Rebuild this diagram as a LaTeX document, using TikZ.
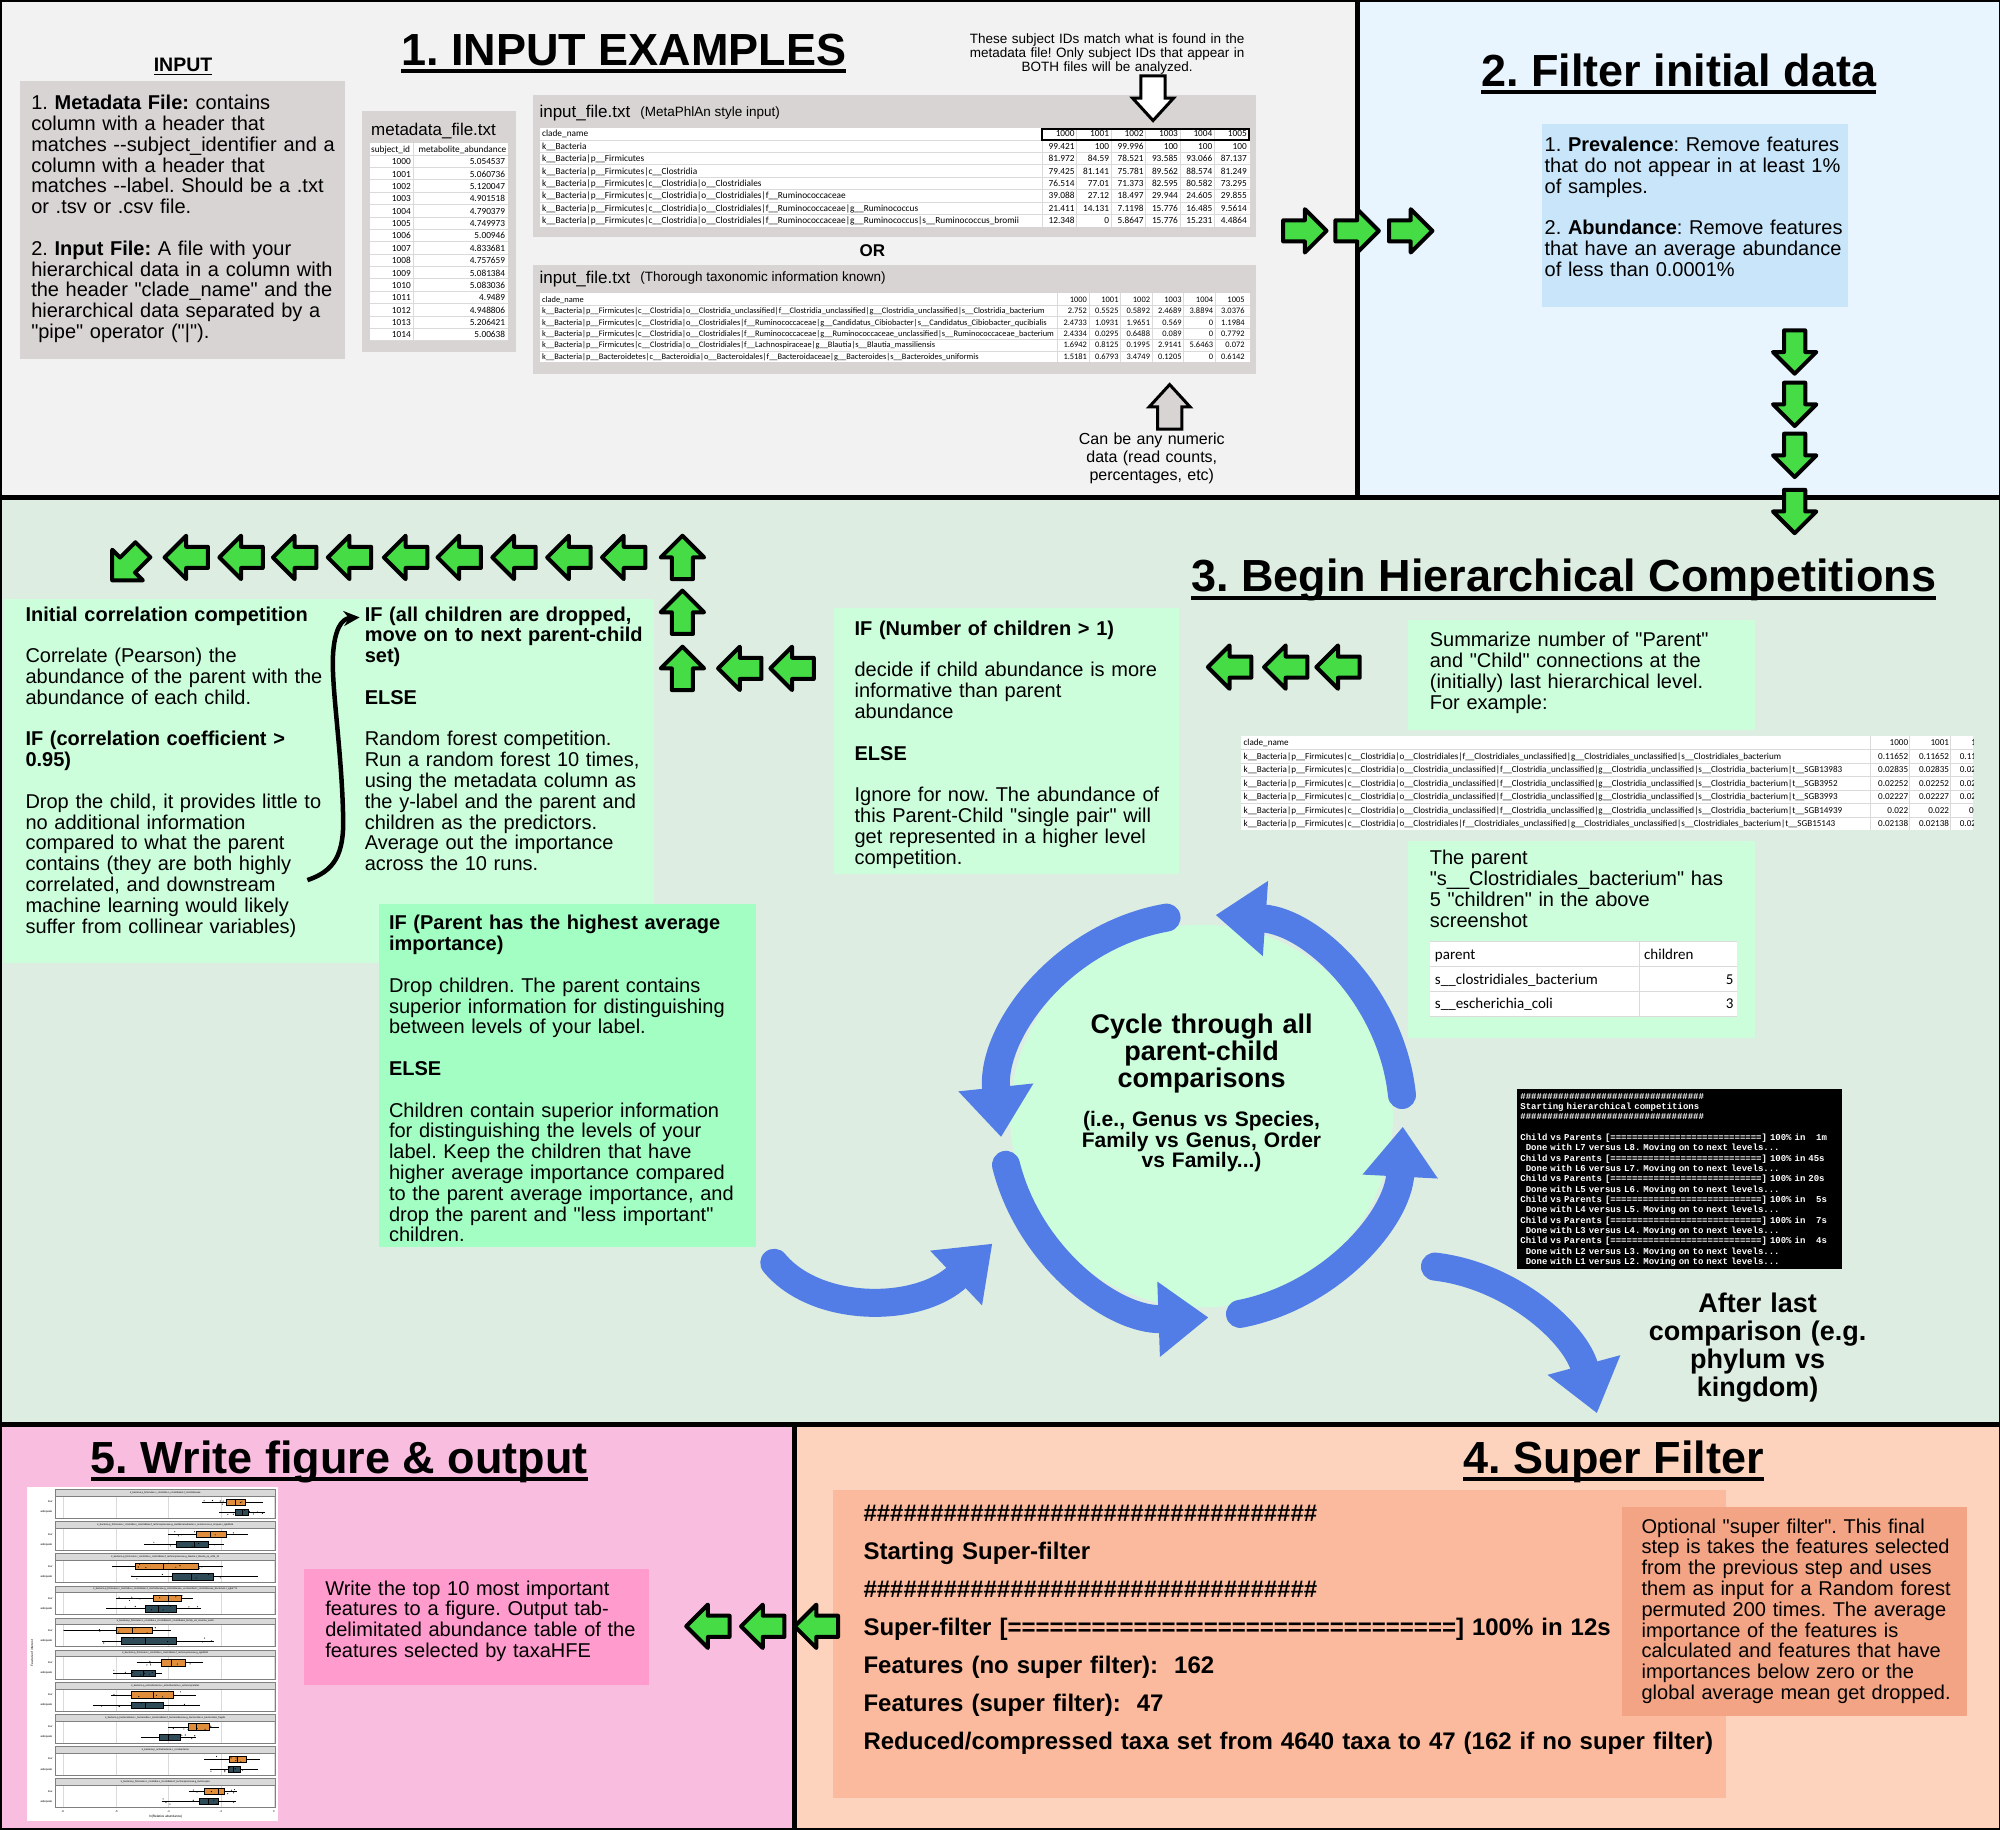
\documentclass[tikz,border=0pt]{standalone}
\usepackage{fontspec}
\setmainfont{Liberation Sans}[Ligatures=TeXOff]
\newfontfamily\calib{Carlito}[Ligatures=TeXOff]
\newfontfamily\termfont{Liberation Mono}[Ligatures=TeXOff]
\usetikzlibrary{arrows.meta}

\definecolor{bgone}{HTML}{F2F2F2}
\definecolor{bgtwo}{HTML}{E8F4FE}
\definecolor{boxtwo}{HTML}{C8E5FA}
\definecolor{bgthree}{HTML}{DDEDE2}
\definecolor{mint}{HTML}{CDFEDC}
\definecolor{mintdark}{HTML}{A2FEC2}
\definecolor{cycblue}{HTML}{537DE6}
\definecolor{bgfive}{HTML}{F9BDE0}
\definecolor{boxfive}{HTML}{FF9BCD}
\definecolor{bgfour}{HTML}{FDD3BE}
\definecolor{boxfour}{HTML}{FBBA9D}
\definecolor{sidefour}{HTML}{F2A484}
\definecolor{paper}{HTML}{D9D4D4}
\definecolor{arrowgreen}{HTML}{46DC46}
\definecolor{gridc}{HTML}{DADADA}
\definecolor{boxorange}{HTML}{E08D3C}
\definecolor{boxslate}{HTML}{2E4B57}
\definecolor{stripc}{HTML}{D9D9D9}

\newcommand\bodyfont{\fontsize{20}{20.8}\selectfont}
\newcommand\gapline{\\[20.8pt]}
\newcommand\headline[1]{\draw[line width=4pt] ([yshift=-6pt]#1.base west) -- ([yshift=-6pt]#1.base east);}
\newcommand\hashrow{\#\#\#\#\#\#\#\#\#\#\#\#\#\#\#\#\#\#\#\#\#\#\#\#\#\#\#\#\#\#\#\#\#\#}
\newcommand\eqbar{============================}
\newcommand\kpre{k\_\_Bacteria|p\_\_Firmicutes|c\_\_Clostridia|}
\newcommand\cunc{o\_\_Clostridia\_unclassified|f\_\_Clostridia\_unclassified|g\_\_Clostridia\_unclassified|s\_\_Clostridia\_bacterium}
\newcommand\cles{o\_\_Clostridiales|f\_\_Clostridiales\_unclassified|g\_\_Clostridiales\_unclassified|s\_\_Clostridiales\_bacterium}

% one row of the MetaPhlAn-style table
\newcommand\trow[8]{%
  \node[anchor=base west] at (425,{107.4+9.7*#1}) {#2};
  \foreach \n [count=\k] in {#3,#4,#5,#6,#7,#8}
    \node[anchor=base east] at ({815.5+27*\k},{107.4+9.7*#1}) {\n};}
% one row of the full-taxonomy table
\newcommand\brow[8]{%
  \node[anchor=base west] at (425,{236.8+9*#1}) {#2};
  \foreach \n [count=\k] in {#3,#4,#5,#6,#7,#8}
    \node[anchor=base east] at ({827.5+24.7*\k},{236.8+9*#1}) {\n};}
% one row of the strain-level table
\newcommand\wrow[5]{%
  \node[anchor=base west] at (975,{584.8+10.57*#1}) {#2};
  \foreach \n [count=\k] in {#3,#4,#5}
    \node[anchor=base east] at ({1464+32*\k},{584.8+10.57*#1}) {\n};}

\tikzset{
  garrow/.pic={\draw[line width=4pt, line join=round, fill=arrowgreen]
    (-17,-8.3) -- (0,-8.3) -- (0,-17) -- (17,0) -- (0,17) -- (0,8.3) -- (-17,8.3) -- cycle;},
  warrow/.pic={\draw[line width=3pt, fill=#1]
    (-17.5,-9.5) -- (0,-9.5) -- (0,-16) -- (17.5,0) -- (0,16) -- (0,9.5) -- (-17.5,9.5) -- cycle;},
  body/.style={anchor=base west, align=left, text width=#1, font=\bodyfont},
  body/.default=460pt,
  heading/.style={anchor=base, font=\fontsize{45}{50}\selectfont\bfseries},
  cyc/.style={cycblue, line width=28pt, line cap=round, -{Triangle[width=72pt,length=50pt]}},
}

\begin{document}
\frenchspacing
\begin{tikzpicture}[x=1.2755pt, y=-1.2755pt, every node/.style={inner sep=0pt, outer sep=0pt}]
\useasboundingbox (0,0) rectangle (1568,1434);

% ---------- panel backgrounds ----------
\fill[bgone] (0,0) rectangle (1064,390);
\fill[bgtwo] (1064,0) rectangle (1568,390);
\fill[bgthree] (0,390) rectangle (1568,1117);
\fill[bgfive] (0,1117) rectangle (623,1434);
\fill[bgfour] (623,1117) rectangle (1568,1434);

% ---------- 1. input examples ----------
\node[heading] (h1) at (489,51) {1. INPUT EXAMPLES};
\headline{h1}
\node[anchor=base, font=\fontsize{19.5}{22}\selectfont\bfseries] (inlabel) at (143.5,56) {INPUT};
\draw[line width=1.6pt] ([yshift=-3pt]inlabel.base west) -- ([yshift=-3pt]inlabel.base east);

\fill[paper] (16,63.5) rectangle (270.5,281.5);
\node[body] (intext) at (24.5,86) {1. \textbf{Metadata File:} contains\\column with a header that\\matches -{}-subject\_identifier and a\\column with a header that\\matches -{}-label. Should be a .txt\\or .tsv or .csv file.\gapline 2. \textbf{Input File:} A file with your\\hierarchical data in a column with\\the header "clade\_name" and the\\hierarchical data separated by a\\"pipe" operator ("|").};

% metadata table
\fill[paper] (284,87) rectangle (404.5,276);
\node[anchor=base west, font=\fontsize{17}{20}\selectfont] (mdtitle) at (291,106) {metadata\_file.txt};
\fill[white] (290,112) rectangle (398,267);
\foreach \i in {0,...,15} \draw[gridc, line width=0.5pt] (290,{121.5+9.7*\i}) -- (398,{121.5+9.7*\i});
\draw[gridc, line width=0.5pt] (324,112) -- (324,267);
\begin{scope}[font=\calib\fontsize{9.3}{10}\selectfont]
  \node[anchor=base west] (mdh1) at (291,119.5) {subject\_id};
  \node[anchor=base east] (mdh2) at (397,119.5) {metabolite\_abundance};
  \foreach \v [count=\i] in {5.054537,5.060736,5.120047,4.901518,4.790379,4.749973,5.00946,4.833681,4.757659,5.081384,5.083036,4.9489,4.948806,5.206421,5.00638} {
    \node[anchor=base east] at (322,{119.4+9.7*\i}) {\the\numexpr 999+\i\relax};
    \node[anchor=base east] at (396,{119.4+9.7*\i}) {\v};
  }
\end{scope}

% MetaPhlAn style input
\fill[paper] (418,74.5) rectangle (985,186);
\node[anchor=base west, font=\fontsize{17}{20}\selectfont] (inf1) at (423,92) {input\_file.txt};
\node[anchor=base west, font=\fontsize{13.5}{16}\selectfont] (inf1s) at (502,91) {(MetaPhlAn style input)};
\fill[white] (423,100) rectangle (980,177.6);
\foreach \i in {1,...,7} \draw[gridc, line width=0.5pt] (423,{100+9.7*\i}) -- (980,{100+9.7*\i});
\foreach \k in {0,...,5} \draw[gridc, line width=0.5pt] ({817+27*\k},100) -- ({817+27*\k},177.6);
\begin{scope}[font=\calib\fontsize{9.3}{10}\selectfont]
  \trow{0}{clade\_name}{1000}{1001}{1002}{1003}{1004}{1005}
  \trow{1}{k\_\_Bacteria}{99.421}{100}{99.996}{100}{100}{100}
  \trow{2}{k\_\_Bacteria|p\_\_Firmicutes}{81.972}{84.59}{78.521}{93.585}{93.066}{87.137}
  \trow{3}{k\_\_Bacteria|p\_\_Firmicutes|c\_\_Clostridia}{79.425}{81.141}{75.781}{89.562}{88.574}{81.249}
  \trow{4}{\kpre o\_\_Clostridiales}{76.514}{77.01}{71.373}{82.595}{80.582}{73.295}
  \trow{5}{\kpre o\_\_Clostridiales|f\_\_Ruminococcaceae}{39.088}{27.12}{18.497}{29.944}{24.605}{29.855}
  \trow{6}{\kpre o\_\_Clostridiales|f\_\_Ruminococcaceae|g\_\_Ruminococcus}{21.411}{14.131}{7.1198}{15.776}{16.485}{9.5614}
  \trow{7}{\kpre o\_\_Clostridiales|f\_\_Ruminococcaceae|g\_\_Ruminococcus|s\_\_Ruminococcus\_bromii}{12.348}{0}{5.8647}{15.776}{15.231}{4.4864}
\end{scope}
\draw[line width=2pt] (817,101) rectangle (979,109.6);

\node[anchor=base, align=center, text width=320pt, font=\fontsize{13.5}{14}\selectfont] (idnote) at (868,34) {These subject IDs match what is found in the\\metadata file! Only subject IDs that appear in\\BOTH files will be analyzed.};
\pic[rotate=-90] at (904,77) {warrow=white};

\node[anchor=base, font=\fontsize{17}{20}\selectfont\bfseries] (ortext) at (684,201) {OR};

% full taxonomy input
\fill[paper] (418,208) rectangle (985,293.5);
\node[anchor=base west, font=\fontsize{17}{20}\selectfont] (inf2) at (423,222) {input\_file.txt};
\node[anchor=base west, font=\fontsize{13.5}{16}\selectfont] (inf2s) at (502,221) {(Thorough taxonomic information known)};
\fill[white] (423,230) rectangle (980,284);
\foreach \i in {1,...,5} \draw[gridc, line width=0.5pt] (423,{230+9*\i}) -- (980,{230+9*\i});
\foreach \k in {0,...,5} \draw[gridc, line width=0.5pt] ({829+24.7*\k},230) -- ({829+24.7*\k},284);
\begin{scope}[font=\calib\fontsize{8.4}{9}\selectfont]
  \brow{0}{clade\_name}{1000}{1001}{1002}{1003}{1004}{1005}
  \brow{1}{\kpre\cunc}{2.752}{0.5525}{0.5892}{2.4689}{3.8894}{3.0376}
  \brow{2}{\kpre o\_\_Clostridiales|f\_\_Ruminococcaceae|g\_\_Candidatus\_Cibiobacter|s\_\_Candidatus\_Cibiobacter\_qucibialis}{2.4733}{1.0931}{1.9651}{0.569}{0}{1.1984}
  \brow{3}{\kpre o\_\_Clostridiales|f\_\_Ruminococcaceae|g\_\_Ruminococcaceae\_unclassified|s\_\_Ruminococcaceae\_bacterium}{2.4334}{0.0295}{0.6488}{0.089}{0}{0.7792}
  \brow{4}{\kpre o\_\_Clostridiales|f\_\_Lachnospiraceae|g\_\_Blautia|s\_\_Blautia\_massiliensis}{1.6942}{0.8125}{0.1995}{2.9141}{5.6463}{0.072}
  \brow{5}{k\_\_Bacteria|p\_\_Bacteroidetes|c\_\_Bacteroidia|o\_\_Bacteroidales|f\_\_Bacteroidaceae|g\_\_Bacteroides|s\_\_Bacteroides\_uniformis}{1.5181}{0.6793}{3.4749}{0.1205}{0}{0.6142}
\end{scope}

\pic[rotate=90] at (917,319) {warrow=paper};
\node[anchor=base, align=center, text width=220pt, font=\fontsize{16}{17.9}\selectfont] (anynum) at (903,348.5) {Can be any numeric\\data (read counts,\\percentages, etc)};

% ---------- 2. filter ----------
\node[heading] (h2) at (1316,67.5) {2. Filter initial data};
\headline{h2}
\fill[boxtwo] (1209,97) rectangle (1449,241);
\node[body] (filt) at (1211,119) {1. \textbf{Prevalence}: Remove features\\that do not appear in at least 1\%\\of samples.\gapline 2. \textbf{Abundance}: Remove features\\that have an average abundance\\of less than 0.0001\%};

% ---------- 3. hierarchical competitions ----------
\node[heading] (h3) at (1226,464) {3. Begin Hierarchical Competitions};
\headline{h3}

\fill[mint] (3,470) rectangle (513,755);
\node[body] (corr) at (20,487) {\textbf{Initial correlation competition}\gapline Correlate (Pearson) the\\abundance of the parent with the\\abundance of each child.\gapline\textbf{IF (correlation coefficient >}\\\textbf{0.95)}\gapline Drop the child, it provides little to\\no additional information\\compared to what the parent\\contains (they are both highly\\correlated, and downstream\\machine learning would likely\\suffer from collinear variables)};
\node[body] (rf) at (286,487) {\textbf{IF (all children are dropped,}\\\textbf{move on to next parent-child}\\\textbf{set)}\gapline\textbf{ELSE}\gapline Random forest competition.\\Run a random forest 10 times,\\using the metadata column as\\the y-label and the parent and\\children as the predictors.\\Average out the importance\\across the 10 runs.};
\coordinate (loopstart) at (241,690);
\coordinate (loopend) at (282,484);
\draw[line width=4.5pt, -{Stealth[length=16pt,width=15pt]}] (loopstart) .. controls (262,683) and (270,670) .. (269,640) .. controls (268,590) and (260,540) .. (261,515) .. controls (262,493) and (268,485) .. (loopend);

\fill[mintdark] (297,709) rectangle (593,978);
\node[body] (parentwin) at (305,729) {\textbf{IF (Parent has the highest average}\\\textbf{importance)}\gapline Drop children. The parent contains\\superior information for distinguishing\\between levels of your label.\gapline\textbf{ELSE}\gapline Children contain superior information\\for distinguishing the levels of your\\label. Keep the children that have\\higher average importance compared\\to the parent average importance, and\\drop the parent and "less important"\\children.};

\fill[mint] (654,477) rectangle (924,685);
\node[body] (nchild) at (670,498) {\textbf{IF (Number of children > 1)}\gapline decide if child abundance is more\\informative than parent\\abundance\gapline\textbf{ELSE}\gapline Ignore for now. The abundance of\\this Parent-Child "single pair" will\\get represented in a higher level\\competition.};

\fill[mint] (1104,486) rectangle (1376,572);
\node[body] (summ) at (1121,507) {Summarize number of "Parent"\\and "Child" connections at the\\(initially) last hierarchical level.\\For example:};

% strain-level example table
\begin{scope}
  \clip (973,577) rectangle (1547,651);
  \fill[white] (973,577) rectangle (1547,651);
  \foreach \i in {1,...,6} \draw[gridc, line width=0.5pt] (973,{577+10.57*\i}) -- (1547,{577+10.57*\i});
  \foreach \x in {1466,1497,1529} \draw[gridc, line width=0.5pt] (\x,577) -- (\x,651);
  \begin{scope}[font=\calib\fontsize{9.1}{10}\selectfont]
    \wrow{0}{clade\_name}{1000}{1001}{1002}
    \wrow{1}{\kpre\cles}{0.11652}{0.11652}{0.11652}
    \wrow{2}{\kpre\cunc|t\_\_SGB13983}{0.02835}{0.02835}{0.02835}
    \wrow{3}{\kpre\cunc|t\_\_SGB3952}{0.02252}{0.02252}{0.02252}
    \wrow{4}{\kpre\cunc|t\_\_SGB3993}{0.02227}{0.02227}{0.02227}
    \wrow{5}{\kpre\cunc|t\_\_SGB14939}{0.022}{0.022}{0.022}
    \wrow{6}{\kpre\cles|t\_\_SGB15143}{0.02138}{0.02138}{0.02138}
  \end{scope}
\end{scope}

\fill[mint] (1104,659) rectangle (1376,814);
\node[body] (ptext) at (1121,678) {The parent\\"s\_\_Clostridiales\_bacterium" has\\5 "children" in the above\\screenshot};
\fill[white] (1121,738) rectangle (1362,797);
\foreach \y in {738,757.7,777.3,797} \draw[gridc, line width=0.8pt] (1121,\y) -- (1362,\y);
\draw[gridc, line width=0.8pt] (1285,738) -- (1285,797);
\begin{scope}[font=\calib\fontsize{15}{16}\selectfont]
  \node[anchor=base west] (pth1) at (1125,752) {parent};
  \node[anchor=base west] (pth2) at (1289,752) {children};
  \node[anchor=base west] (ptr1) at (1125,771.5) {s\_\_clostridiales\_bacterium};
  \node[anchor=base east] (ptv1) at (1359,771.5) {5};
  \node[anchor=base west] (ptr2) at (1125,791) {s\_\_escherichia\_coli};
  \node[anchor=base east] (ptv2) at (1359,791) {3};
\end{scope}

% cycle of parent-child comparisons
\begin{scope}[shift={(942,875)}]
  \begin{scope}[x=1.2755pt,y=1.2755pt]
    \fill[mint] (0,0) circle[radius=150];
    \draw[cyc] (100:158) arc[start angle=100,end angle=186,radius=158];
    \draw[cyc] (194:158) arc[start angle=194,end angle=272,radius=158];
    \draw[cyc] (281:158) arc[start angle=281,end angle=357,radius=158];
    \draw[cyc] (6:158) arc[start angle=6,end angle=86,radius=158];
  \end{scope}
\end{scope}
\node[anchor=base, align=center, text width=280pt, font=\fontsize{27}{27}\selectfont\bfseries] (cyctext) at (942,810) {Cycle through all\\parent-child\\comparisons};
\node[anchor=base, align=center, text width=280pt, font=\fontsize{21}{20.8}\selectfont\bfseries] (cycsub) at (942,883) {(i.e., Genus vs Species,\\Family vs Genus, Order\\vs Family...)};

\coordinate (winout) at (607,990);
\coordinate (cycin) at (778,975);
\draw[cyc] (winout) .. controls (640,1030) and (720,1030) .. (cycin);
\coordinate (cycout) at (1125,993);
\coordinate (sfin) at (1252,1108);
\draw[cyc] (cycout) .. controls (1185,1000) and (1235,1045) .. (sfin);

% console output
\fill[black] (1189,854) rectangle (1444,995);
\begin{scope}
  \clip (1189,854) rectangle (1444,995);
  \node[anchor=base west, align=left, text width=420pt, text=white, font=\termfont\bfseries\fontsize{9}{10.33}\selectfont] (term) at (1192,861.7) {%
\#\#\#\#\#\#\#\#\#\#\#\#\#\#\#\#\#\#\#\#\#\#\#\#\#\#\#\#\#\#\#\#\#\#\\
Starting hierarchical competitions\\
\#\#\#\#\#\#\#\#\#\#\#\#\#\#\#\#\#\#\#\#\#\#\#\#\#\#\#\#\#\#\#\#\#\#\\[10.33pt]
Child vs Parents [\eqbar] 100\% in\phantom{xx}1m\\
\phantom{x}Done with L7 versus L8. Moving on to next levels...\\
Child vs Parents [\eqbar] 100\% in 45s\\
\phantom{x}Done with L6 versus L7. Moving on to next levels...\\
Child vs Parents [\eqbar] 100\% in 20s\\
\phantom{x}Done with L5 versus L6. Moving on to next levels...\\
Child vs Parents [\eqbar] 100\% in\phantom{xx}5s\\
\phantom{x}Done with L4 versus L5. Moving on to next levels...\\
Child vs Parents [\eqbar] 100\% in\phantom{xx}7s\\
\phantom{x}Done with L3 versus L4. Moving on to next levels...\\
Child vs Parents [\eqbar] 100\% in\phantom{xx}4s\\
\phantom{x}Done with L2 versus L3. Moving on to next levels...\\
\phantom{x}Done with L1 versus L2. Moving on to next levels...};
\end{scope}

\node[anchor=base, align=center, text width=300pt, font=\fontsize{27}{28.3}\selectfont\bfseries] (lastcmp) at (1378,1028.6) {After last\\comparison (e.g.\\phylum vs\\kingdom)};

% ---------- 4. super filter ----------
\node[heading] (h4) at (1265,1155) {4. Super Filter};
\headline{h4}
\fill[boxfour] (653,1168) rectangle (1353,1410);
\node[anchor=base west, align=left, text width=900pt, font=\fontsize{24}{38}\selectfont\bfseries] (sftext) at (677,1193) {\hashrow\\Starting Super-filter\\\hashrow\\Super-filter [================================] 100\% in 12s\\Features (no super filter):\ \ 162\\Features (super filter):\ \ 47\\Reduced/compressed taxa set from 4640 taxa to 47 (162 if no super filter)};
\fill[sidefour] (1272,1181.5) rectangle (1542,1345.5);
\node[body] (sfnote) at (1287,1202) {Optional "super filter". This final\\step is takes the features selected\\from the previous step and uses\\them as input for a Random forest\\permuted 200 times. The average\\importance of the features is\\calculated and features that have\\importances below zero or the\\global average mean get dropped.};

% ---------- 5. output ----------
\node[heading] (h5) at (266,1155) {5. Write figure \& output};
\headline{h5}
\fill[boxfive] (238,1230) rectangle (509,1321);
\node[body] (wtext) at (255,1250.5) {Write the top 10 most important\\features to a figure. Output tab-\\delimitated abundance table of the\\features selected by taxaHFE};

% boxplot figure of the top features
\fill[white] (21,1166) rectangle (218,1428);
\pgfmathsetseed{11}
\foreach \k/\lA/\lB/\lM/\lL/\lH/\dA/\dB/\dM/\dL/\dH/\lab in {
 0/443/480/462/395/515/460/487/475/430/520/{k\_bacteria.p\_firmicutes.c\_clostridia.o\_clostridiales.f\_clostridiaceae},
 1/385/443/412/330/487/345/408/380/283/440/{k\_bacteria.p\_firmicutes.c\_clostridia.o\_clostridiales.f\_lachnospiraceae.g\_mediterraneibacter.s\_ruminococcus\_torques.t\_sgb4565},
 2/265/388/320/220/438/337/418/375/257/505/{k\_bacteria.p\_firmicutes.c\_clostridia.o\_clostridiales.f\_lachnospiraceae.g\_blautia.s\_blautia\_sp\_af19\_10},
 3/300/355/330/228/378/285/345/310/208/393/{k\_bacteria.p\_firmicutes.c\_clostridia.o\_clostridiales.f\_clostridiaceae.g\_clostridiaceae\_unclassified.s\_clostridiaceae\_bacterium.t\_sgb4771},
 4/228/298/260/125/335/237/345/285/200/420/{k\_bacteria.p\_firmicutes.c\_clostridia.o\_clostridiales.f\_clostridiales\_family\_xiii\_incertae\_sedis},
 5/315/362/335/268/398/258/305/280/222/318/{k\_bacteria.p\_firmicutes.c\_clostridia.o\_clostridiales.f\_lachnospiraceae.g\_sgb4950},
 6/258/340/300/218/385/258/320/285/183/392/{k\_bacteria.p\_actinobacteria.c\_actinobacteria.o\_actinomycetales},
 7/368/410/385/330/430/312/354/330/277/385/{k\_bacteria.p\_bacteroidetes.c\_bacteroidia.o\_bacteroidales.f\_bacteroidaceae.g\_bacteroides.s\_bacteroides\_fragilis},
 8/450/483/465/400/510/447/470/458/412/505/{k\_bacteria.p\_actinobacteria.c\_coriobacteriia},
 9/400/440/428/370/465/390/427/408/317/462/{k\_bacteria.p\_firmicutes.c\_clostridia.o\_clostridiales.f\_lachnospiraceae.g\_lachnospira}} {
  \pgfmathsetmacro\yt{1167.6+25.19*\k}
  \fill[stripc] (43.2,\yt) rectangle (216,{\yt+5.2});
  \node[font=\fontsize{2.4}{3}\selectfont] at (129.6,{\yt+2.6}) {\lab};
  \foreach \g in {49.2,91.2,132,173.2,214.8} \draw[gridc, line width=0.3pt] (\g,{\yt+5.2}) -- (\g,{\yt+22.5});
  \draw[gray, line width=0.3pt] (43.2,\yt) rectangle (216,{\yt+22.5});
  \draw[gray, line width=0.3pt] (43.2,{\yt+5.2}) -- (216,{\yt+5.2});
  \foreach \yy/\qa/\qb/\qm/\wl/\wh/\bc/\rlab in {9.9/\lA/\lB/\lM/\lL/\lH/boxorange/low, 18/\dA/\dB/\dM/\dL/\dH/boxslate/adequate} {
    \pgfmathsetmacro\yc{\yt+\yy}
    \node[anchor=east, font=\fontsize{2.8}{3}\selectfont] at (41,\yc) {\rlab};
    \draw[line width=0.35pt] ({\wl/2.5},\yc) -- ({\wh/2.5},\yc);
    \draw[line width=0.35pt, fill=\bc] ({\qa/2.5},{\yc-2.5}) rectangle ({\qb/2.5},{\yc+2.5});
    \draw[line width=0.6pt] ({\qm/2.5},{\yc-2.5}) -- ({\qm/2.5},{\yc+2.5});
    \foreach \j in {1,...,7} {
      \pgfmathsetmacro\dx{(\wl+(\wh-\wl)*rnd)/2.5}
      \pgfmathsetmacro\dy{\yc+2.2*rand}
      \fill (\dx,\dy) circle[radius=0.45];
    }
  }
}
\foreach \g/\t in {49.2/-8,91.2/-6,132/-4,173.2/-2,214.8/0} \node[font=\fontsize{2.8}{3}\selectfont] at (\g,1420) {\t};
\node[font=\fontsize{3.2}{4}\selectfont] (xlab) at (130,1424.5) {ln(Relative abundance)};
\node[rotate=90, font=\fontsize{3.2}{4}\selectfont] (ylab) at (25,1296) {Feature of interest};

% ---------- panel borders ----------
\draw[line width=3pt] (0,0) rectangle (1568,1434);
\draw[line width=5pt] (1064,0) -- (1064,390);
\draw[line width=5pt] (0,390) -- (1568,390);
\draw[line width=5pt] (0,1117) -- (1568,1117);
\draw[line width=5pt] (623,1117) -- (623,1434);

% ---------- flow arrows ----------
\foreach \x in {1023,1064,1106} \pic at (\x,181) {garrow};
\foreach \y in {276,317,357,401} \pic[rotate=-90] at (1407,\y) {garrow};
\foreach \x in {964,1008,1049} \pic[rotate=180] at (\x,523) {garrow};
\foreach \x in {580,621} \pic[rotate=180] at (\x,524) {garrow};
\foreach \y in {437,480,524} \pic[rotate=90] at (535,\y) {garrow};
\foreach \x in {146,189,231,274,318,360,403,446,489} \pic[rotate=180] at (\x,437) {garrow};
\pic[rotate=225] at (100,443) {garrow};
\foreach \x in {555,598,640} \pic[rotate=180] at (\x,1275) {garrow};

\end{tikzpicture}
\end{document}
